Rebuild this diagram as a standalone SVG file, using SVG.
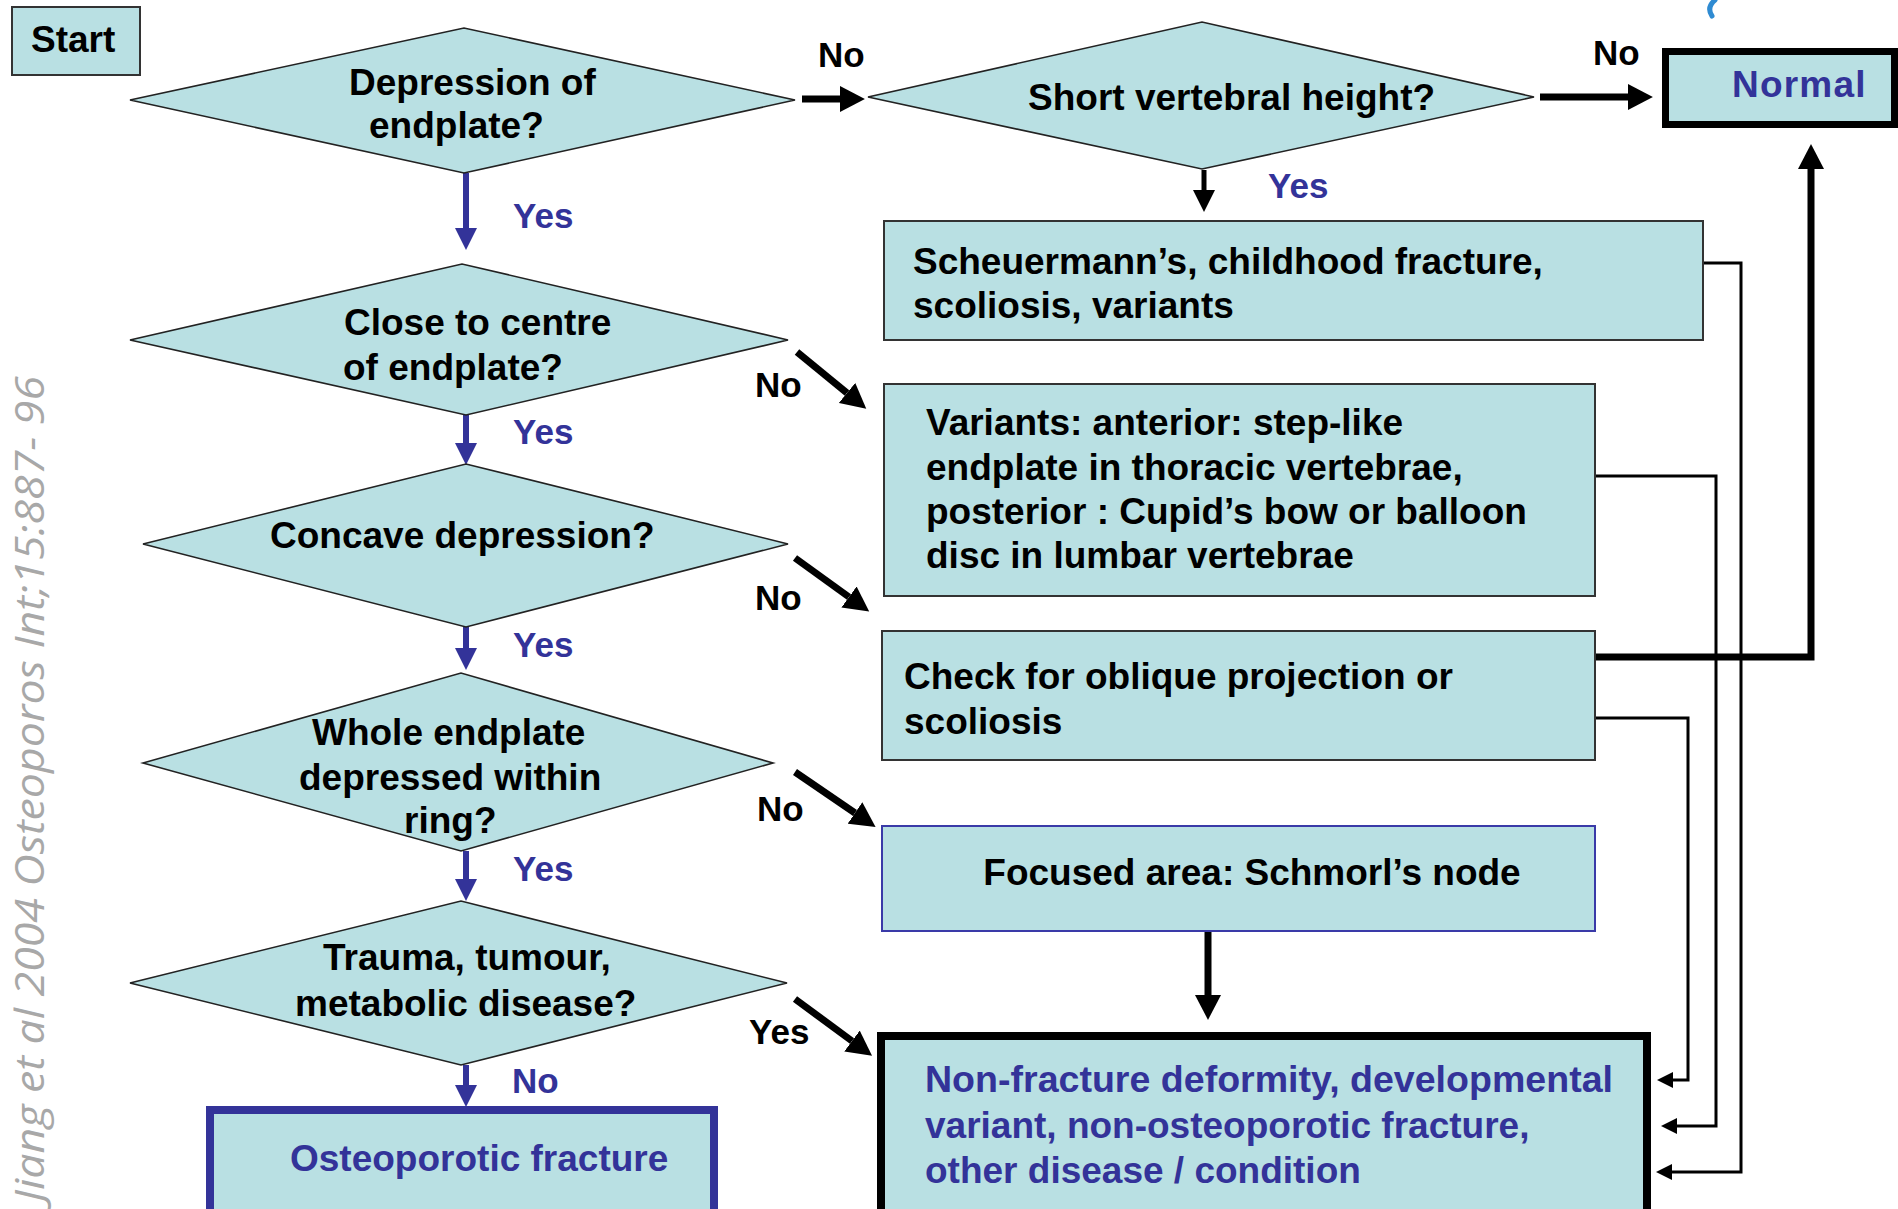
<svg xmlns="http://www.w3.org/2000/svg" width="1898" height="1209" viewBox="0 0 1898 1209">
  <style>
    .node { fill: #b9e0e3; stroke: #333333; stroke-width: 2; }
    .dia { fill: #b9e0e3; stroke: #222222; stroke-width: 1.6; }
    .t { font-family: "Liberation Sans", Arial, sans-serif; font-weight: bold; font-size: 37px; fill: #000000; }
    .blue { fill: #333399; }
    .lbl { font-size: 35px; }
    .wm { font-family: "Open Sans", "DejaVu Sans", sans-serif; font-style: italic; font-size: 41px; fill: #a8a8a8; }
    .cb { fill: none; stroke: #000000; stroke-width: 7; }
    .cbm { fill: none; stroke: #000000; stroke-width: 5; }
    .cbl { fill: none; stroke: #333399; stroke-width: 6; }
    .ct { fill: none; stroke: #000000; stroke-width: 3; }
  </style>
  <defs>
    <marker id="ab" markerUnits="userSpaceOnUse" markerWidth="26" markerHeight="26" refX="0" refY="12" orient="auto" viewBox="0 0 24 24">
      <path d="M0,0 L23,12 L0,24 Z" fill="#000000"/>
    </marker>
    <marker id="abs" markerUnits="userSpaceOnUse" markerWidth="22" markerHeight="22" refX="0" refY="10" orient="auto" viewBox="0 0 20 20">
      <path d="M0,0 L20,10 L0,20 Z" fill="#000000"/>
    </marker>
    <marker id="abl" markerUnits="userSpaceOnUse" markerWidth="22" markerHeight="22" refX="0" refY="10" orient="auto" viewBox="0 0 20 20">
      <path d="M0,0 L20,10 L0,20 Z" fill="#333399"/>
    </marker>
    <marker id="at" markerUnits="userSpaceOnUse" markerWidth="16" markerHeight="16" refX="0" refY="8" orient="auto" viewBox="0 0 16 16">
      <path d="M0,0 L16,8 L0,16 Z" fill="#000000"/>
    </marker>
  </defs>

  <rect width="1898" height="1209" fill="#ffffff"/>

  <!-- watermark -->
  <text class="wm" transform="translate(44,1202) rotate(-90)" textLength="826" lengthAdjust="spacingAndGlyphs">Jiang et al 2004 Osteoporos Int;15:887- 96</text>

  <!-- small blue fragment at top -->
  <path d="M1715,0 C1709,5 1708,10 1712,16" fill="none" stroke="#2f8bd2" stroke-width="5" stroke-linecap="round"/>

  <g id="connectors">
    <line class="cb" x1="802" y1="99" x2="840" y2="99" marker-end="url(#ab)"/>
    <line class="cb" x1="1540" y1="97" x2="1628" y2="97" marker-end="url(#ab)"/>
    <line class="cbm" x1="1204" y1="170" x2="1204" y2="190" marker-end="url(#abs)"/>
    <line class="cbl" x1="466" y1="173" x2="466" y2="228" marker-end="url(#abl)"/>
    <line class="cbl" x1="466" y1="415" x2="466" y2="443" marker-end="url(#abl)"/>
    <line class="cbl" x1="466" y1="627" x2="466" y2="648" marker-end="url(#abl)"/>
    <line class="cbl" x1="466" y1="851" x2="466" y2="879" marker-end="url(#abl)"/>
    <line class="cbl" x1="466" y1="1065" x2="466" y2="1085" marker-end="url(#abl)"/>
    <line class="cb" x1="797" y1="352" x2="847" y2="393" marker-end="url(#ab)"/>
    <line class="cb" x1="795" y1="558" x2="849" y2="597" marker-end="url(#ab)"/>
    <line class="cb" x1="795" y1="772" x2="855" y2="813" marker-end="url(#ab)"/>
    <line class="cb" x1="795" y1="999" x2="852" y2="1041" marker-end="url(#ab)"/>
    <line class="cb" x1="1208" y1="931" x2="1208" y2="995" marker-end="url(#ab)"/>
    <polyline class="cb" points="1595,657 1811,657 1811,169" marker-end="url(#ab)"/>
    <polyline class="ct" points="1703,263 1741,263 1741,1172 1672,1172" marker-end="url(#at)"/>
    <polyline class="ct" points="1595,476 1716,476 1716,1126 1677,1126" marker-end="url(#at)"/>
    <polyline class="ct" points="1595,718 1688,718 1688,1080 1673,1080" marker-end="url(#at)"/>
  </g>

  <g id="start">
    <rect class="node" x="12" y="7" width="128" height="68"/>
    <text class="t" x="31" y="52" font-size="36">Start</text>
  </g>

  <g id="d1">
    <polygon class="dia" points="130,100 464,28 795,100 464,173"/>
    <text class="t" x="349" y="95">Depression of</text>
    <text class="t" x="369" y="138">endplate?</text>
  </g>

  <g id="d2">
    <polygon class="dia" points="868,97 1202,22 1534,97 1202,169"/>
    <text class="t" x="1028" y="110">Short vertebral height?</text>
  </g>

  <g id="normal">
    <rect x="1665.5" y="51.5" width="229" height="73" fill="#b9e0e3" stroke="#000000" stroke-width="7"/>
    <text class="t blue" x="1732" y="97" font-size="36" letter-spacing="1.2">Normal</text>
  </g>

  <g id="scheuermann">
    <rect class="node" x="884" y="221" width="819" height="119"/>
    <text class="t" x="913" y="274">Scheuermann’s, childhood fracture,</text>
    <text class="t" x="913" y="318">scoliosis, variants</text>
  </g>

  <g id="d3">
    <polygon class="dia" points="130,340 462,264 788,340 466,415"/>
    <text class="t" x="344" y="335">Close to centre</text>
    <text class="t" x="343" y="380">of endplate?</text>
  </g>

  <g id="variants">
    <rect class="node" x="884" y="384" width="711" height="212"/>
    <text class="t" x="926" y="435">Variants: anterior: step-like</text>
    <text class="t" x="926" y="480">endplate in thoracic vertebrae,</text>
    <text class="t" x="926" y="524">posterior : Cupid’s bow or balloon</text>
    <text class="t" x="926" y="568">disc in lumbar vertebrae</text>
  </g>

  <g id="d4">
    <polygon class="dia" points="143,544 466,464 788,544 466,627"/>
    <text class="t" x="270" y="548">Concave depression?</text>
  </g>

  <g id="check">
    <rect class="node" x="882" y="631" width="713" height="129"/>
    <text class="t" x="904" y="689">Check for oblique projection or</text>
    <text class="t" x="904" y="734">scoliosis</text>
  </g>

  <g id="d5">
    <polygon class="dia" points="143,763 461,673 773,763 461,851"/>
    <text class="t" x="312" y="745">Whole endplate</text>
    <text class="t" x="299" y="790">depressed within</text>
    <text class="t" x="404" y="833">ring?</text>
  </g>

  <g id="focused">
    <rect x="882" y="826" width="713" height="105" fill="#b9e0e3" stroke="#3a3aa8" stroke-width="2"/>
    <text class="t" x="1252" y="885" text-anchor="middle">Focused area: Schmorl’s node</text>
  </g>

  <g id="d6">
    <polygon class="dia" points="130,983 461,901 787,983 461,1065"/>
    <text class="t" x="323" y="970">Trauma, tumour,</text>
    <text class="t" x="295" y="1016">metabolic disease?</text>
  </g>

  <g id="osteoporotic">
    <rect x="210" y="1110" width="504" height="110" fill="#b9e0e3" stroke="#333399" stroke-width="8"/>
    <text class="t blue" x="290" y="1171">Osteoporotic fracture</text>
  </g>

  <g id="nonfracture">
    <rect x="881" y="1036" width="766" height="180" fill="#b9e0e3" stroke="#000000" stroke-width="8"/>
    <text class="t blue" x="925" y="1092" textLength="688" lengthAdjust="spacingAndGlyphs">Non-fracture deformity, developmental</text>
    <text class="t blue" x="925" y="1138">variant, non-osteoporotic fracture,</text>
    <text class="t blue" x="925" y="1183">other disease / condition</text>
  </g>

  <g id="labels">
    <text class="t lbl" x="818" y="67">No</text>
    <text class="t lbl" x="1593" y="65">No</text>
    <text class="t lbl blue" x="1268" y="198" font-size="37">Yes</text>
    <text class="t lbl blue" x="513" y="228">Yes</text>
    <text class="t lbl blue" x="513" y="444">Yes</text>
    <text class="t lbl blue" x="513" y="657">Yes</text>
    <text class="t lbl blue" x="513" y="881">Yes</text>
    <text class="t lbl blue" x="512" y="1093">No</text>
    <text class="t lbl" x="755" y="397">No</text>
    <text class="t lbl" x="755" y="610">No</text>
    <text class="t lbl" x="757" y="821">No</text>
    <text class="t lbl" x="749" y="1044">Yes</text>
  </g>
</svg>
